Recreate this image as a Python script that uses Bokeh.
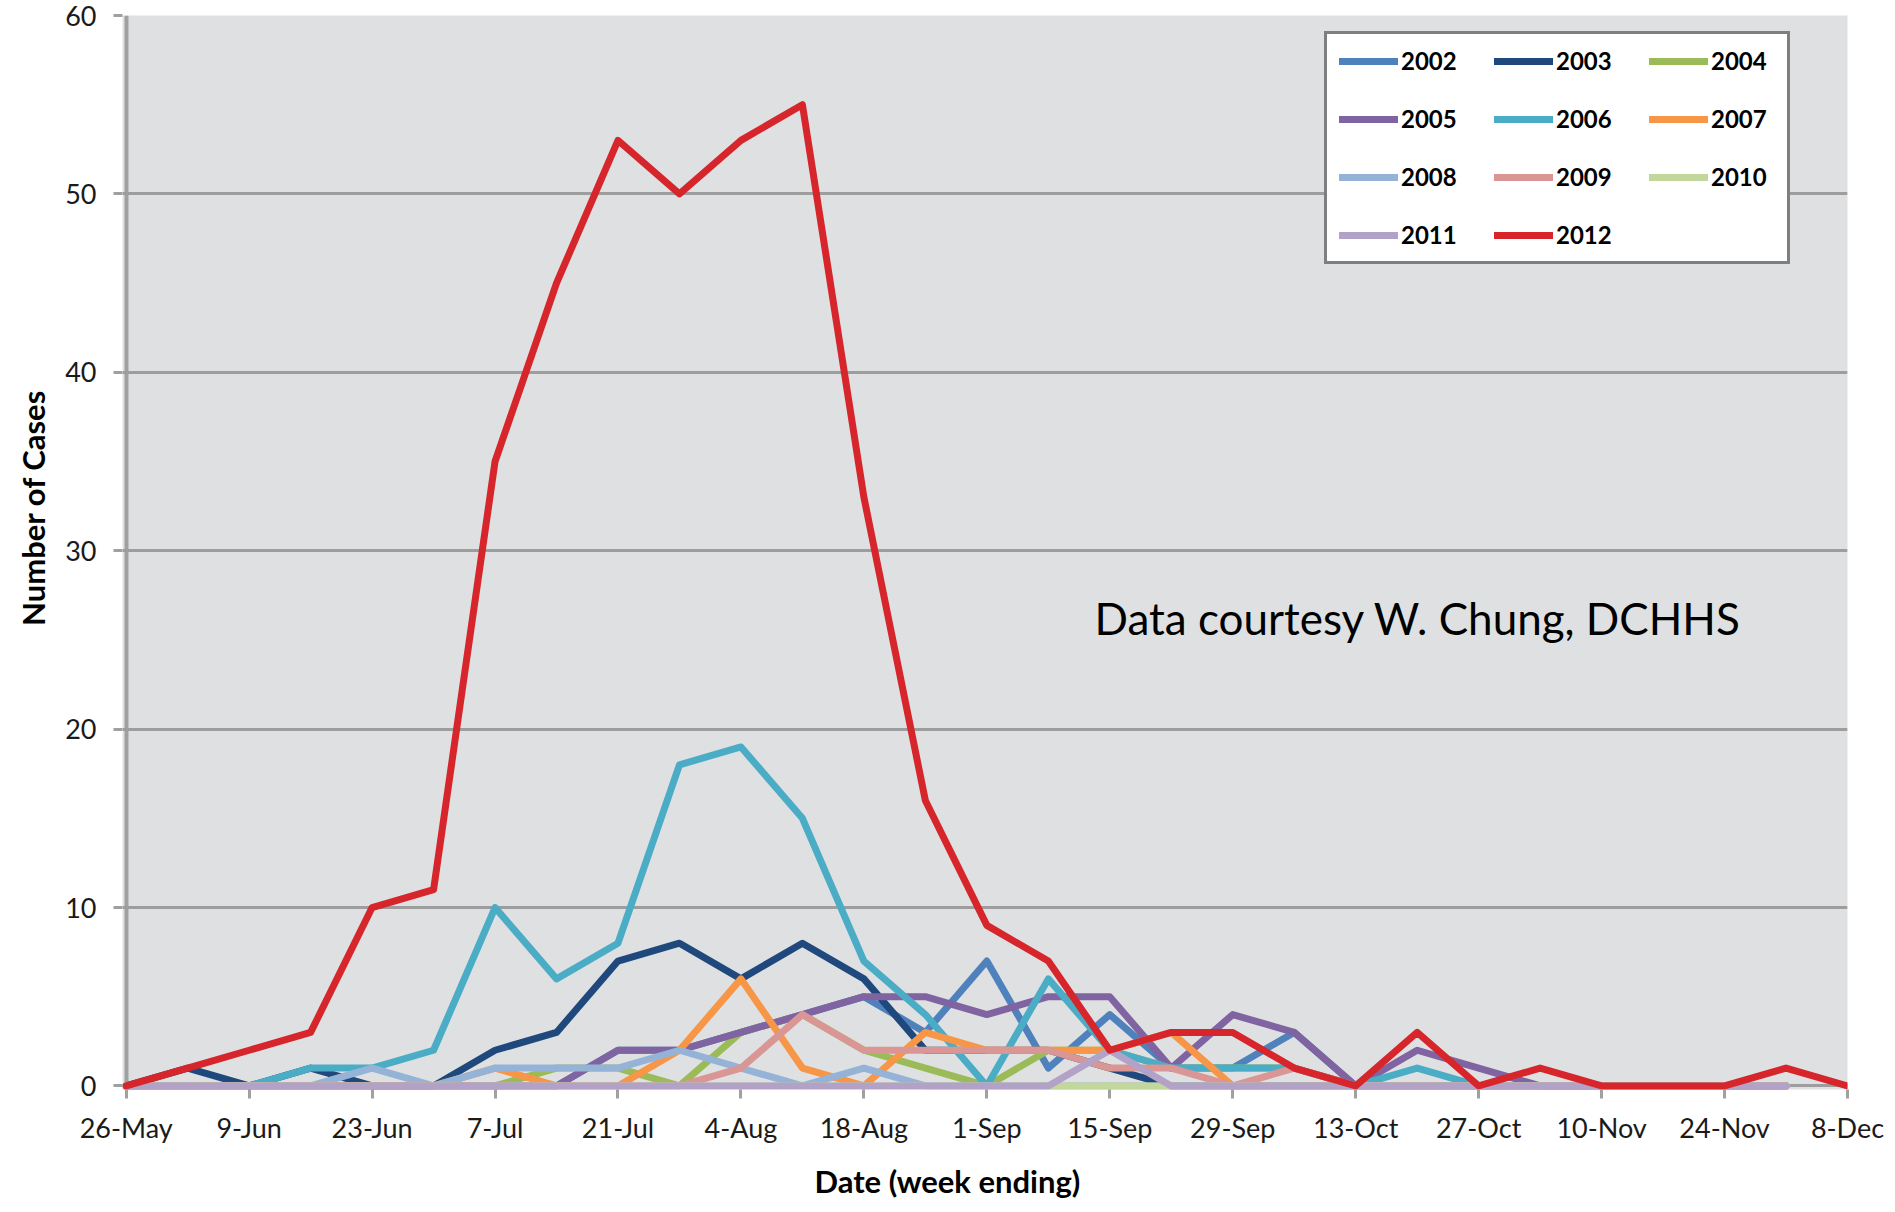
import math
from bokeh.plotting import figure
from bokeh.models import Range1d, FixedTicker, Legend, LegendItem, Label, Title
from bokeh.embed import file_html
from bokeh.resources import INLINE

# week index 0 = 26-May ... 28 = 8-Dec
weeks = list(range(29))
tick_positions = list(range(0, 29, 2))
tick_labels = ["26-May", "9-Jun", "23-Jun", "7-Jul", "21-Jul", "4-Aug", "18-Aug",
               "1-Sep", "15-Sep", "29-Sep", "13-Oct", "27-Oct", "10-Nov", "24-Nov", "8-Dec"]
y_ticks = [0, 10, 20, 30, 40, 50, 60]

years = ["2002", "2003", "2004", "2005", "2006", "2007",
         "2008", "2009", "2010", "2011", "2012"]

y2002 = [0, 0, 0, 0, 0, 0, 0, 0, 2, 2, 3, 4, 5, 3, 7, 1, 4, 1, 1, 3, 0, 0, 0, 0, 0, 0, 0, 0]
y2003 = [0, 1, 0, 1, 0, 0, 2, 3, 7, 8, 6, 8, 6, 2, 2, 2, 1, 0, 0, 0, 0, 0, 0, 0, 0, 0, 0, 0]
y2004 = [0, 0, 0, 0, 0, 0, 0, 1, 1, 0, 3, 4, 2, 1, 0, 2, 2, 1, 1, 1, 0, 0, 0, 0, 0, 0, 0, 0]
y2005 = [0, 0, 0, 0, 0, 0, 0, 0, 2, 2, 3, 4, 5, 5, 4, 5, 5, 1, 4, 3, 0, 2, 1, 0, 0, 0, 0, 0]
y2006 = [0, 0, 0, 1, 1, 2, 10, 6, 8, 18, 19, 15, 7, 4, 0, 6, 2, 1, 1, 1, 0, 1, 0, 0, 0, 0, 0, 0]
y2007 = [0, 0, 0, 0, 0, 0, 1, 0, 0, 2, 6, 1, 0, 3, 2, 2, 2, 3, 0, 0, 0, 0, 0, 0, 0, 0, 0, 0]
y2008 = [0, 0, 0, 0, 1, 0, 1, 1, 1, 2, 1, 0, 1, 0, 0, 0, 0, 0, 0, 0, 0, 0, 0, 0, 0, 0, 0, 0]
y2009 = [0, 0, 0, 0, 0, 0, 0, 0, 0, 0, 1, 4, 2, 2, 2, 2, 1, 1, 0, 1, 0, 0, 0, 0, 0, 0, 0, 0]
y2010 = [0, 0, 0, 0, 0, 0, 0, 0, 0, 0, 0, 0, 0, 0, 0, 0, 0, 0, 0, 0, 0, 0, 0, 0, 0, 0, 0, 0]
y2011 = [0, 0, 0, 0, 0, 0, 0, 0, 0, 0, 0, 0, 0, 0, 0, 0, 2, 0, 0, 0, 0, 0, 0, 0, 0, 0, 0, 0]
y2012 = [0, 1, 2, 3, 10, 11, 35, 45, 53, 50, 53, 55, 33, 16, 9, 7, 2, 3, 3, 1, 0, 3, 0, 1, 0, 0, 0, 1, 0]

series = [y2002, y2003, y2004, y2005, y2006, y2007, y2008, y2009, y2010, y2011, y2012]
colors = ["#4f81bd", "#1f497d", "#9bbb59", "#8064a2", "#4bacc6", "#f79646",
          "#95b3d7", "#d99694", "#c3d69b", "#b3a2c7", "#d6262b"]

GRID = "#9d9d9d"

p = figure(width=1890, height=1212, output_backend="svg", toolbar_location=None,
           x_range=Range1d(-0.06, 28), y_range=Range1d(-0.2, 60),
           min_border_left=118, min_border_right=43, min_border_top=15, min_border_bottom=121)
p.background_fill_color = "#dfe0e2"
p.border_fill_color = "white"
p.outline_line_color = None

# grid (underlay, so data lines draw above the zero lines)
p.xgrid.ticker = FixedTicker(ticks=[0])
p.xgrid.grid_line_color = "#a0a0a0"
p.xgrid.grid_line_width = 4
p.ygrid.ticker = FixedTicker(ticks=y_ticks)
p.ygrid.grid_line_color = GRID
p.ygrid.grid_line_width = 3

# axes
for ax in (p.xaxis[0], p.yaxis[0]):
    ax.axis_line_color = None
    ax.major_tick_line_color = "#a0a0a0"
    ax.major_tick_line_width = 3
    ax.major_tick_out = 9
    ax.major_tick_in = 0
    ax.minor_tick_line_color = None
    ax.major_label_text_font = "Lato"
    ax.major_label_text_color = "#1a1a1a"
    ax.major_label_text_font_size = "27px"

p.xaxis.ticker = FixedTicker(ticks=tick_positions)
p.xaxis.major_label_overrides = {t: l for t, l in zip(tick_positions, tick_labels)}
p.xaxis.major_label_standoff = 12
p.yaxis.ticker = FixedTicker(ticks=y_ticks)
p.yaxis.major_label_standoff = 17

renderers = {}
for name, vals, col in zip(years, series, colors):
    r = p.line(weeks[:len(vals)], vals, line_color=col, line_width=7,
               line_join="round", line_cap="round")
    renderers[name] = r

# row-major appearance with column-major fill
order = ["2002", "2005", "2008", "2011", "2003", "2006", "2009", "2012", "2004", "2007", "2010"]
items = [LegendItem(label=n, renderers=[renderers[n]]) for n in order]

legend = Legend(items=items, ncols=3, location=(1202, 825))
legend.border_line_color = "black"
legend.border_line_width = 3
legend.background_fill_color = "white"
legend.background_fill_alpha = 1
legend.glyph_width = 59
legend.glyph_height = 22
legend.label_standoff = 3
legend.label_width = 64
legend.label_height = 22
legend.label_text_font = "Lato"
legend.label_text_font_style = "bold"
legend.label_text_font_size = "24px"
legend.label_text_color = "black"
legend.padding = 12
legend.spacing = 29
legend.margin = 0
p.add_layout(legend, "center")

ylab = Title(text="Number of Cases", align="right", offset=374, standoff=22,
             text_font="Lato", text_font_style="bold", text_font_size="31px",
             text_color="black")
p.add_layout(ylab, "left")
xlab = Title(text="Date (week ending)", align="left", offset=692, standoff=26,
             text_font="Lato", text_font_style="bold", text_font_size="31px",
             text_color="black")
p.add_layout(xlab, "below")

p.add_layout(Label(x=972, y=472, x_units="screen", y_units="screen",
                   text="Data courtesy W. Chung, DCHHS",
                   text_align="left", text_baseline="alphabetic",
                   text_font="Lato", text_font_size="44px", text_color="black"))

open("out.html", "w").write(file_html(p, INLINE))
